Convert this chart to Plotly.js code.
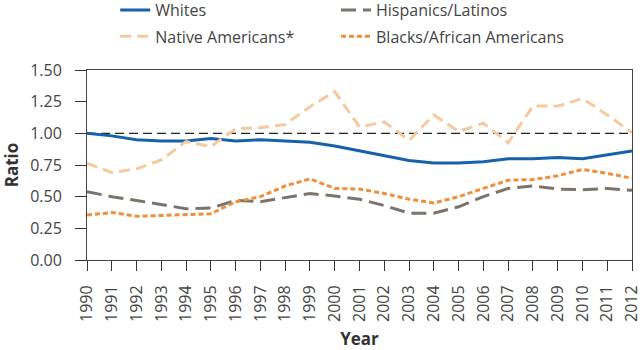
<!DOCTYPE html>
<html><head><meta charset="utf-8">
<script src="https://cdn.plot.ly/plotly-3.0.1.min.js"></script>
<style>html,body{margin:0;padding:0;background:#fff}</style>
</head><body><div id="chart" style="width:640px;height:350px"></div>
<script>
const years = [1990,1991,1992,1993,1994,1995,1996,1997,1998,1999,2000,2001,2002,2003,2004,2005,2006,2007,2008,2009,2010,2011,2012];
const whites = [1.00,0.98,0.95,0.94,0.94,0.96,0.94,0.95,0.94,0.93,0.90,0.86,0.82,0.785,0.765,0.765,0.775,0.80,0.80,0.81,0.80,0.83,0.86];
const hispanics = [0.54,0.50,0.47,0.44,0.405,0.41,0.47,0.46,0.495,0.525,0.505,0.48,0.43,0.37,0.37,0.42,0.50,0.565,0.585,0.56,0.555,0.565,0.55];
const natives = [0.765,0.69,0.72,0.79,0.935,0.895,1.035,1.045,1.07,1.21,1.33,1.05,1.09,0.945,1.145,1.015,1.08,0.925,1.215,1.215,1.275,1.145,1.005];
const blacks = [0.355,0.375,0.345,0.35,0.355,0.365,0.46,0.50,0.585,0.64,0.565,0.56,0.525,0.48,0.45,0.50,0.565,0.63,0.635,0.665,0.715,0.685,0.645];
const yTicks = [0,0.25,0.5,0.75,1.0,1.25,1.5];
const refValue = 1.0;

const traces = [
  {x: years, y: whites, name: 'Whites', mode: 'lines', legend: 'legend', line: {color: '#1661aa', width: 3}},
  {x: years, y: hispanics, name: 'Hispanics/Latinos', mode: 'lines', legend: 'legend2', line: {color: '#7b746b', width: 3, dash: '15px,7px'}},
  {x: years, y: natives, name: 'Native Americans*', mode: 'lines', legend: 'legend3', line: {color: '#f4c9a0', width: 3, dash: '11px,6px'}},
  {x: years, y: blacks, name: 'Blacks/African Americans', mode: 'lines', legend: 'legend4', line: {color: '#ef8f3a', width: 3, dash: '5px,3px'}}
];

const legFont = {family: 'Open Sans, sans-serif', size: 16, color: '#444'};
function leg(x, y) {
  return {orientation: 'h', xref: 'container', yref: 'container', xanchor: 'left', yanchor: 'middle',
          x: x, y: y, font: legFont, bgcolor: 'rgba(0,0,0,0)', borderwidth: 0};
}
const layout = {
  width: 640, height: 350,
  margin: {l: 87, r: 8, t: 70, b: 90},
  paper_bgcolor: '#fff', plot_bgcolor: '#fff',
  font: {family: 'Open Sans, sans-serif', color: '#444', size: 16},
  showlegend: true,
  legend: leg(0.18, 0.971),
  legend2: leg(0.525, 0.971),
  legend3: leg(0.18, 0.896),
  legend4: leg(0.525, 0.896),
  xaxis: {range: [1990, 2012], tickvals: years, ticktext: years.map(String), tickangle: -90,
          ticks: 'outside', ticklen: 10, tickcolor: '#333', showline: true, mirror: true,
          linecolor: '#444', linewidth: 1, showgrid: false, zeroline: false,
          ticklabelstandoff: 8, ticklabeloverflow: 'allow',
          tickfont: {family: 'Open Sans, sans-serif', size: 16, color: '#444'},
          title: {text: '<b>Year</b>', font: {family: 'Open Sans, sans-serif', size: 17, color: '#333'}, standoff: 14}},
  yaxis: {range: [0, 1.5], tickvals: yTicks, tickformat: '.2f', ticks: 'outside', ticklen: 11,
          tickcolor: '#333', showline: true, mirror: true, linecolor: '#444', linewidth: 1,
          showgrid: false, zeroline: false, ticklabelstandoff: 10,
          tickfont: {family: 'Open Sans, sans-serif', size: 16, color: '#444'},
          title: {text: '<b>Ratio</b>', font: {family: 'Open Sans, sans-serif', size: 17, color: '#333'}, standoff: 12}},
  shapes: [{type: 'line', xref: 'paper', x0: 0, x1: 1, yref: 'y', y0: refValue, y1: refValue,
            line: {color: '#222', width: 1.2, dash: '9px,5px'}, layer: 'below'}]
};
Plotly.newPlot('chart', traces, layout, {displayModeBar: false, staticPlot: true});
</script></body></html>
